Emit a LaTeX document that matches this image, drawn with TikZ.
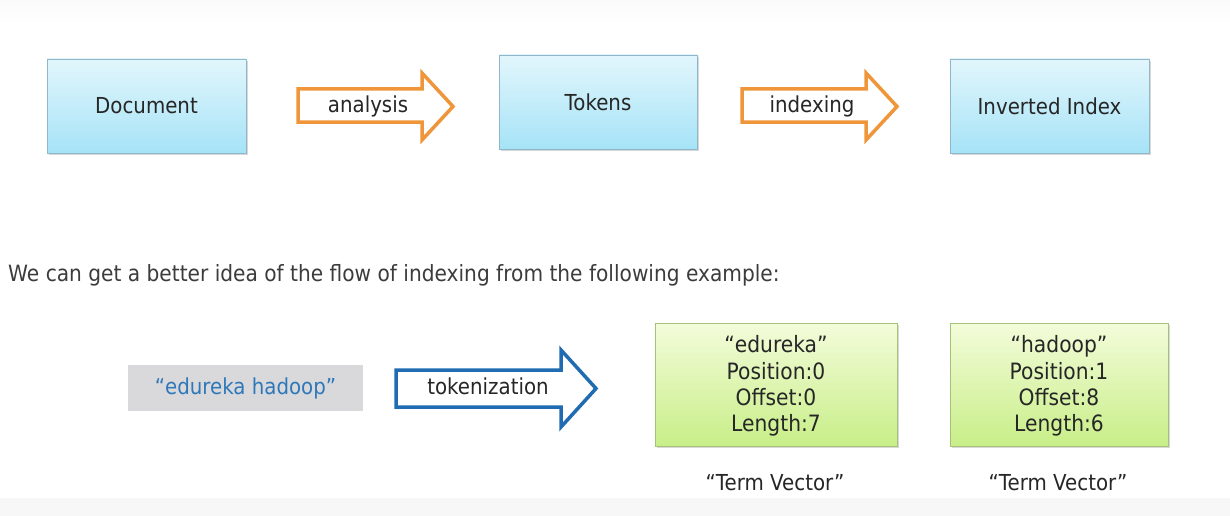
\documentclass[tikz,border=0pt]{standalone}
\usepackage{fontspec}
\setmainfont{DejaVu Sans}[FakeStretch=0.9]
\usetikzlibrary{shadows}
\definecolor{txt}{HTML}{262626}
\definecolor{bluetop}{HTML}{E2F6FC}
\definecolor{bluebot}{HTML}{A6E3F7}
\definecolor{blueedge}{HTML}{8FB6C9}
\definecolor{greentop}{HTML}{F3FCDA}
\definecolor{greenbot}{HTML}{C8EE88}
\definecolor{greenedge}{HTML}{A6C27A}
\definecolor{orng}{HTML}{F0963A}
\definecolor{darkblue}{HTML}{1F6CB2}
\definecolor{grayfill}{HTML}{D9D9DB}
\definecolor{quoteblue}{HTML}{2E78BA}
\begin{document}
\begin{tikzpicture}[x=1pt,y=-1pt,
  bluebox/.style={draw=blueedge,line width=0.8pt,top color=bluetop,bottom color=bluebot,
    drop shadow={opacity=0.3,shadow xshift=1.5pt,shadow yshift=-2pt}},
  greenbox/.style={draw=greenedge,line width=0.8pt,top color=greentop,bottom color=greenbot,
    drop shadow={opacity=0.3,shadow xshift=1.5pt,shadow yshift=-2pt}},
  lbl/.style={font=\fontsize{22}{26}\selectfont,text=txt,inner sep=0pt},
  blockarrow/.style={line width=3.5pt,line join=miter,fill=white},
  tv/.style={font=\fontsize{22.5}{26.3}\selectfont,text=txt,inner sep=0pt,align=center}
]
\useasboundingbox (0,0) rectangle (1230,516);
\fill[white] (0,0) rectangle (1230,516);
\fill[black!3] (0,498) rectangle (1230,516);
\shade[top color=black!2,bottom color=white] (0,0) rectangle (1230,24);

% top row boxes
\draw[bluebox] (47,59) rectangle (246,153);
\node[lbl] (doc) at (146.5,106) {Document};
\draw[bluebox] (499,55) rectangle (697,149);
\node[lbl] (tok) at (598,102) {Tokens};
\draw[bluebox] (950,59) rectangle (1149,153);
\node[lbl] (inv) at (1049.5,106) {Inverted Index};

% orange block arrows
\draw[blockarrow,draw=orng] (298,89) -- (422,89) -- (422,73) -- (453,106.5) -- (422,140) -- (422,122) -- (298,122) -- cycle;
\node[lbl] (ana) at (368,106) {analysis};
\draw[blockarrow,draw=orng] (742,89) -- (866,89) -- (866,73) -- (897,106.5) -- (866,140) -- (866,122) -- (742,122) -- cycle;
\node[lbl] (idx) at (812,106) {indexing};

% sentence
\node[anchor=west,inner sep=0pt,text=txt!90,font=\fontsize{22.4}{26}\selectfont] (sent) at (8,275)
  {We can get a better idea of the flow of indexing from the following example:};

% bottom row
\fill[grayfill] (128,365) rectangle (363,411);
\node[lbl,text=quoteblue] (src) at (245.5,388) {“edureka hadoop”};

\draw[blockarrow,draw=darkblue] (396,370) -- (561,370) -- (561,350) -- (596,388.5) -- (561,427) -- (561,407) -- (396,407) -- cycle;
\node[lbl] (tkz) at (488,386) {tokenization};

\draw[greenbox] (655,323) rectangle (897,446);
\node[tv] (t1) at (776,386) {“edureka”\\Position:0\\Offset:0\\Length:7};
\draw[greenbox] (950,323) rectangle (1168,446);
\node[tv] (t2) at (1059,386) {“hadoop”\\Position:1\\Offset:8\\Length:6};

\node[lbl] (tv1) at (775,483) {“Term Vector”};
\node[lbl] (tv2) at (1058,483) {“Term Vector”};
\end{tikzpicture}
\end{document}
